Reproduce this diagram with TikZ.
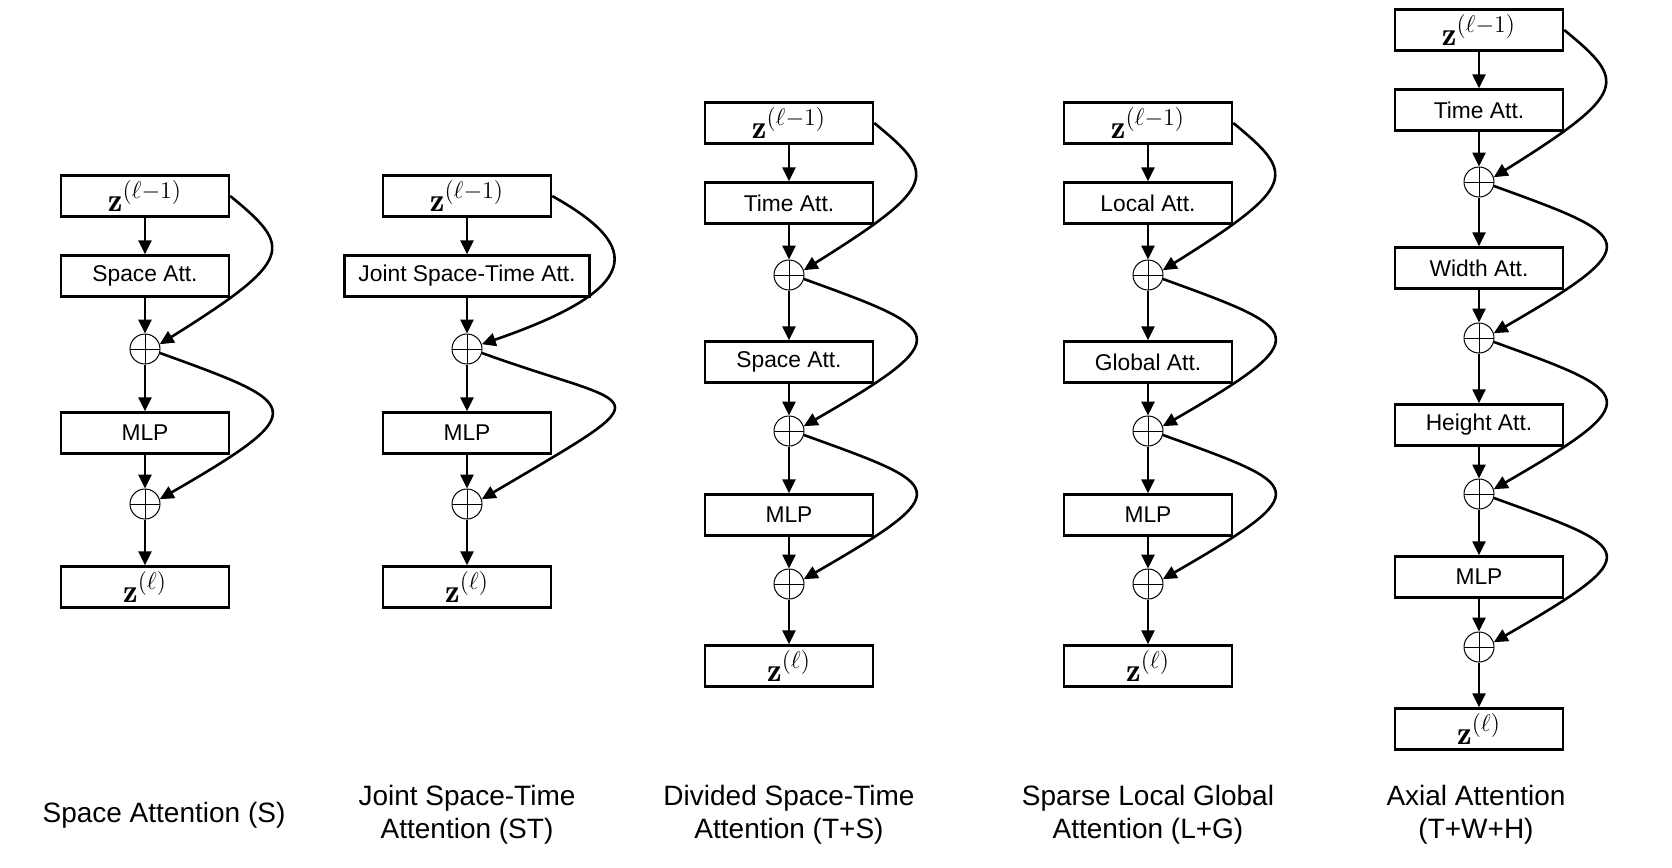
\documentclass[tikz,border=0pt]{standalone}
\usepackage{amsmath}
\usepackage{fontspec}
\setsansfont{Liberation Sans}
\usetikzlibrary{arrows.meta}

\begin{document}
\begin{tikzpicture}[x=0.5pt, y=-0.5pt,
  blk/.style={draw, line width=1.25pt, minimum width=84pt, minimum height=20.5pt, inner sep=0pt,
    font=\sffamily\fontsize{11.4}{13}\selectfont},
  zblk/.style={blk, font=\fontsize{16.5}{19}\selectfont},
  adder/.style={circle, draw, line width=0.5pt, minimum size=15pt, inner sep=0pt,
    path picture={\draw[line width=0.5pt] (path picture bounding box.north) -- (path picture bounding box.south)
      (path picture bounding box.west) -- (path picture bounding box.east);}},
  arr/.style={-{Triangle[length=7pt,width=6.5pt]}, line width=1.3pt},
  resid/.style={arr},
  lbl/.style={align=center, font=\sffamily\fontsize{14}{16.5}\selectfont}]
  \useasboundingbox (0,0) rectangle (1672,868);

  % Space Attention (S)
  \node[zblk] (s-in) at (145,196) {$\mathbf{z}^{(\ell-1)}$};
  \node[blk] (s-att) at (145,276) {Space Att.};
  \node[adder] (s-p1) at (145,349) {};
  \node[blk] (s-mlp) at (145,433) {MLP};
  \node[adder] (s-p2) at (145,504) {};
  \node[zblk] (s-out) at (145,587) {$\mathbf{z}^{(\ell)}$};
  \foreach \a/\b in {s-in/s-att, s-att/s-p1, s-p1/s-mlp, s-mlp/s-p2, s-p2/s-out}
    \draw[arr] (\a) -- (\b);
  \draw[resid] (s-in.east) .. controls +(62,51) and +(136,-85) .. (s-p1.18);
  \draw[resid] (s-p1.-15) .. controls +(141,51) and +(156,-90) .. (s-p2.18);
  \node[lbl] (s-lbl) at (164,815) {Space Attention (S)};

  % Joint Space-Time Attention (ST)
  \node[zblk] (j-in) at (467,196) {$\mathbf{z}^{(\ell-1)}$};
  \node[blk, minimum width=122.5pt] (j-att) at (467,276) {Joint Space-Time Att.};
  \node[adder] (j-p1) at (467,349) {};
  \node[blk] (j-mlp) at (467,433) {MLP};
  \node[adder] (j-p2) at (467,504) {};
  \node[zblk] (j-out) at (467,587) {$\mathbf{z}^{(\ell)}$};
  \foreach \a/\b in {j-in/j-att, j-att/j-p1, j-p1/j-mlp, j-mlp/j-p2, j-p2/j-out}
    \draw[arr] (\a) -- (\b);
  \draw[resid] (j-in.east) .. controls +(80,45) and +(175,-60) .. (j-p1.18);
  \draw[resid] (j-p1.-15) .. controls +(160,58) and +(190,-112) .. (j-p2.18);
  \node[lbl] (j-lbl) at (467,815) {Joint Space-Time\\Attention (ST)};

  % Divided Space-Time Attention (T+S)
  \node[zblk] (d-in) at (789,123) {$\mathbf{z}^{(\ell-1)}$};
  \node[blk] (d-time) at (789,203) {Time Att.};
  \node[adder] (d-p1) at (789,275) {};
  \node[blk] (d-space) at (789,362) {Space Att.};
  \node[adder] (d-p2) at (789,431) {};
  \node[blk] (d-mlp) at (789,515) {MLP};
  \node[adder] (d-p3) at (789,584) {};
  \node[zblk] (d-out) at (789,666) {$\mathbf{z}^{(\ell)}$};
  \foreach \a/\b in {d-in/d-time, d-time/d-p1, d-p1/d-space, d-space/d-p2, d-p2/d-mlp, d-mlp/d-p3, d-p3/d-out}
    \draw[arr] (\a) -- (\b);
  \draw[resid] (d-in.east) .. controls +(62,51) and +(136,-85) .. (d-p1.18);
  \foreach \a/\b in {d-p1/d-p2, d-p2/d-p3}
    \draw[resid] (\a.-15) .. controls +(141,51) and +(156,-90) .. (\b.18);
  \node[lbl] (d-lbl) at (789,815) {Divided Space-Time\\Attention (T+S)};

  % Sparse Local Global Attention (L+G)
  \node[zblk] (l-in) at (1148,123) {$\mathbf{z}^{(\ell-1)}$};
  \node[blk] (l-local) at (1148,203) {Local Att.};
  \node[adder] (l-p1) at (1148,275) {};
  \node[blk] (l-global) at (1148,362) {Global Att.};
  \node[adder] (l-p2) at (1148,431) {};
  \node[blk] (l-mlp) at (1148,515) {MLP};
  \node[adder] (l-p3) at (1148,584) {};
  \node[zblk] (l-out) at (1148,666) {$\mathbf{z}^{(\ell)}$};
  \foreach \a/\b in {l-in/l-local, l-local/l-p1, l-p1/l-global, l-global/l-p2, l-p2/l-mlp, l-mlp/l-p3, l-p3/l-out}
    \draw[arr] (\a) -- (\b);
  \draw[resid] (l-in.east) .. controls +(62,51) and +(136,-85) .. (l-p1.18);
  \foreach \a/\b in {l-p1/l-p2, l-p2/l-p3}
    \draw[resid] (\a.-15) .. controls +(141,51) and +(156,-90) .. (\b.18);
  \node[lbl] (l-lbl) at (1148,815) {Sparse Local Global\\Attention (L+G)};

  % Axial Attention (T+W+H)
  \node[zblk] (a-in) at (1479,30) {$\mathbf{z}^{(\ell-1)}$};
  \node[blk] (a-time) at (1479,110) {Time Att.};
  \node[adder] (a-p1) at (1479,182) {};
  \node[blk] (a-width) at (1479,268) {Width Att.};
  \node[adder] (a-p2) at (1479,338) {};
  \node[blk] (a-height) at (1479,425) {Height Att.};
  \node[adder] (a-p3) at (1479,494) {};
  \node[blk] (a-mlp) at (1479,577) {MLP};
  \node[adder] (a-p4) at (1479,647) {};
  \node[zblk] (a-out) at (1479,729) {$\mathbf{z}^{(\ell)}$};
  \foreach \a/\b in {a-in/a-time, a-time/a-p1, a-p1/a-width, a-width/a-p2, a-p2/a-height,
      a-height/a-p3, a-p3/a-mlp, a-mlp/a-p4, a-p4/a-out}
    \draw[arr] (\a) -- (\b);
  \draw[resid] (a-in.east) .. controls +(62,51) and +(136,-85) .. (a-p1.18);
  \foreach \a/\b in {a-p1/a-p2, a-p2/a-p3, a-p3/a-p4}
    \draw[resid] (\a.-15) .. controls +(141,51) and +(156,-90) .. (\b.18);
  \node[lbl] (a-lbl) at (1476,815) {Axial Attention\\(T+W+H)};
\end{tikzpicture}
\end{document}
